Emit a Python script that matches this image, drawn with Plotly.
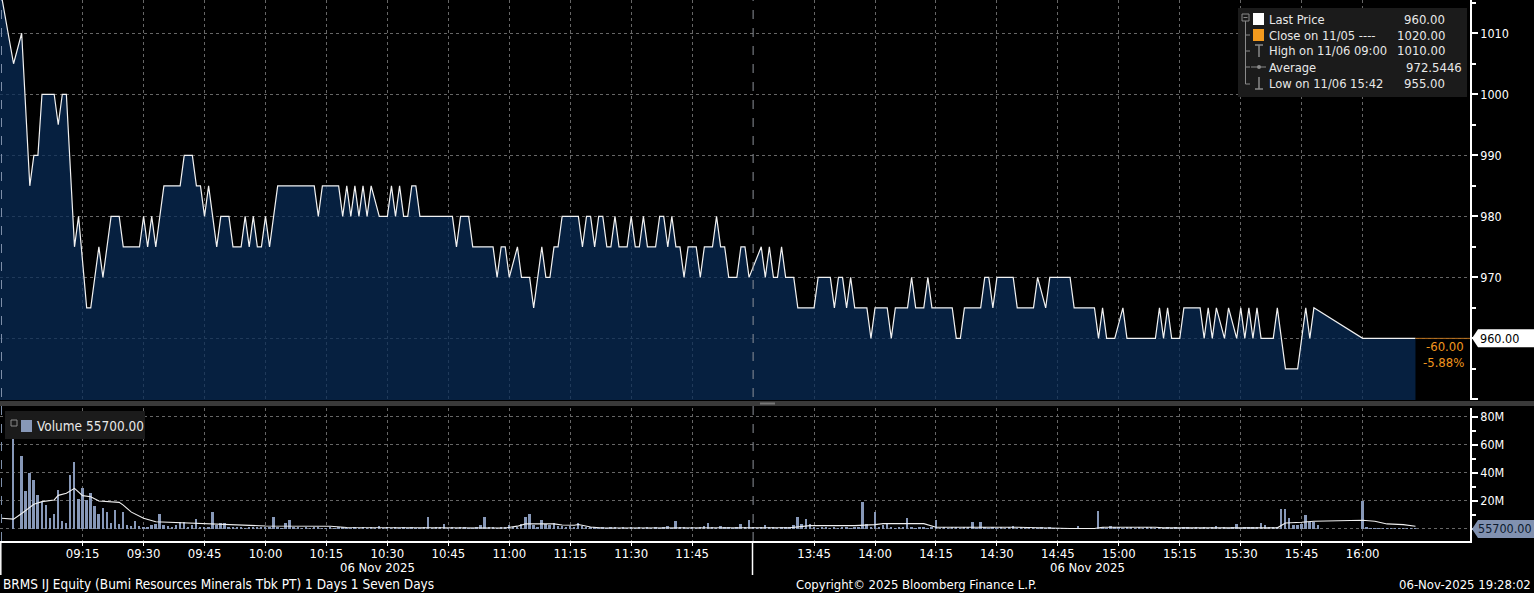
import plotly.graph_objects as go
import pandas as pd

DAY = "2025-11-06"

# ---------------- price (vertices of the traded-price line) ----------------
price_times = [
    "08:54", "08:58", "09:00", "09:02", "09:03", "09:04", "09:05", "09:08", "09:09", "09:10",
    "09:11", "09:13", "09:14", "09:16", "09:17", "09:19", "09:20", "09:22", "09:24", "09:25",
    "09:29", "09:30", "09:31", "09:32", "09:33", "09:35", "09:39", "09:40", "09:42", "09:43",
    "09:44", "09:45", "09:46", "09:48", "09:49", "09:51", "09:52", "09:54", "09:55", "09:56",
    "09:57", "09:58", "09:59", "10:00", "10:01", "10:03", "10:12", "10:13", "10:14", "10:18",
    "10:19", "10:20", "10:21", "10:22", "10:23", "10:24", "10:25", "10:26", "10:28", "10:30",
    "10:31", "10:32", "10:33", "10:34", "10:35", "10:36", "10:37", "10:38", "10:46", "10:47",
    "10:48", "10:50", "10:51", "10:56", "10:57", "10:58", "10:59", "11:00", "11:02", "11:03",
    "11:05", "11:06", "11:08", "11:09", "11:10", "11:11", "11:12", "11:13", "11:17", "11:18",
    "11:19", "11:20", "11:21", "11:22", "11:23", "11:24", "11:25", "11:26", "11:27", "11:29",
    "11:30", "11:31", "11:32", "11:33", "11:34", "11:36", "11:37", "11:38", "11:39", "11:40",
    "11:41", "11:42", "11:43", "11:44", "11:46", "11:47", "11:48", "11:50", "11:51", "11:52",
    "11:53", "11:54", "11:56", "11:57", "11:58", "11:59",
    "13:32", "13:33", "13:34", "13:35", "13:36", "13:37", "13:38", "13:40", "13:41", "13:45",
    "13:46", "13:49", "13:50", "13:51", "13:52", "13:53", "13:54", "13:55", "13:58", "13:59",
    "14:00", "14:03", "14:04", "14:05", "14:08", "14:09", "14:10", "14:12", "14:13", "14:14",
    "14:19", "14:20", "14:21", "14:22", "14:26", "14:27", "14:28", "14:29", "14:30", "14:34",
    "14:35", "14:39", "14:40", "14:42", "14:43", "14:48", "14:49", "14:54", "14:55", "14:56",
    "14:57", "14:59", "15:01", "15:02", "15:09", "15:10", "15:11", "15:12", "15:13", "15:15",
    "15:16", "15:20", "15:21", "15:22", "15:23", "15:24", "15:26", "15:27", "15:29", "15:30",
    "15:31", "15:32", "15:33", "15:34", "15:35", "15:38", "15:39", "15:40", "15:41", "15:44",
    "15:45", "15:46", "15:47", "15:48", "16:00", "16:13",
]
price_values = [
    1020, 1005, 1010, 985, 990, 990, 1000, 1000, 995, 1000,
    1000, 975, 980, 965, 965, 975, 970, 980, 980, 975,
    975, 980, 975, 980, 975, 985, 985, 990, 990, 985,
    985, 980, 985, 975, 980, 980, 975, 975, 980, 975,
    980, 975, 975, 980, 975, 985, 985, 980, 985, 985,
    980, 985, 980, 985, 980, 985, 980, 985, 980, 980,
    985, 980, 985, 980, 980, 985, 985, 980, 980, 975,
    980, 980, 975, 975, 970, 975, 975, 970, 975, 970,
    970, 965, 975, 970, 970, 975, 975, 980, 980, 975,
    980, 980, 975, 980, 980, 975, 975, 980, 975, 975,
    980, 975, 975, 980, 975, 975, 980, 980, 975, 980,
    975, 975, 970, 975, 975, 970, 975, 975, 980, 975,
    975, 970, 970, 975, 975, 970,
    975, 970, 975, 970, 970, 975, 970, 970, 965, 965,
    970, 970, 965, 970, 970, 965, 970, 965, 965, 960,
    965, 965, 960, 965, 965, 970, 965, 965, 970, 965,
    965, 960, 960, 965, 965, 970, 970, 965, 970, 970,
    965, 965, 970, 965, 970, 970, 965, 965, 960, 965,
    960, 960, 965, 960, 960, 965, 960, 965, 960, 960,
    965, 965, 960, 965, 960, 965, 960, 965, 960, 965,
    960, 965, 960, 965, 960, 960, 965, 960, 955, 955,
    960, 965, 960, 965, 960, 960,
]

# ---------------- volume (per minute, millions of shares) ----------------
preopen_vol_time = ["08:58"]
preopen_vol = [64.0]
am_vol = [
    52, 27, 40, 35, 24, 19.5, 17, 7.6, 11, 28, 5.7, 4, 38.5, 47.6, 21.4,
    29, 20.7, 26, 16.4, 10.7, 14.8, 12.4, 4, 13.6, 3.6, 11.9, 2.9, 2.1, 5.7, 2.4,
    1.0, 1.2, 2.9, 3.3, 10.7, 2.9, 2.4, 1.7, 2.9, 4.8, 4.8, 1.7, 2.9, 7.0, 1.0,
    1.7, 1.7, 12.0, 2.9, 4.0, 4.0, 1.2, 0.8, 1.5, 1.0, 0.6, 1.2, 0.9, 0.7, 1.1,
    0.8, 1.0, 8.3, 0.9, 0.6, 4.0, 6.2, 1.2, 0.7, 0.5, 0.9, 0.6, 1.1, 0.8, 0.5,
    0.6, 0.9, 0.5, 0.7, 1.0, 0.6, 0.4, 0.8, 0.5, 0.7, 0.6, 0.9, 0.5, 2.0, 0.6,
    0.8, 0.5, 0.7, 0.6, 0.9, 0.5, 0.7, 0.6, 0.4, 0.8, 8.6, 0.5, 0.7, 0.9, 3.6,
    0.6, 0.8, 0.5, 0.7, 0.9, 0.6, 0.5, 0.8, 2.6, 8.6, 0.7, 0.9, 0.6, 1.0, 0.8,
    3.0, 0.9, 1.2, 3.6, 8.3, 10.7, 3.0, 1.0, 6.2, 3.6, 2.6, 4.3, 2.4, 2.4, 1.0,
    2.2, 0.8, 4.3, 2.4, 0.9, 0.7, 1.0, 0.6, 0.8, 0.5, 0.7, 0.9, 0.6, 0.8, 0.5,
    0.7, 0.6, 0.9, 0.5, 0.8, 0.6, 0.7, 0.5, 0.8, 2.4, 0.6, 6.0, 0.7, 0.9, 0.5,
    0.8, 0.6, 0.7, 1.9, 4.3, 0.8, 0.6, 1.9, 0.7, 0.9, 0.6, 0.8, 3.6, 0.7, 6.2,
]
pm_vol = [
    0.9, 0.6, 0.8, 2.6, 0.7, 0.9, 0.6, 0.8, 0.7, 0.9, 2.6, 8.6, 3.6, 7.1, 3.6,
    0.8, 0.6, 0.7, 0.9, 0.5, 0.8, 0.6, 0.7, 0.9, 0.6, 0.8, 1.0, 19.3, 3.6, 1.2,
    12.1, 0.9, 2.6, 4.3, 0.8, 0.6, 0.9, 0.7, 7.9, 0.8, 0.6, 0.9, 0.7, 0.5, 0.8,
    6.7, 0.6, 0.8, 0.5, 0.7, 0.9, 0.6, 0.8, 0.7, 5.0, 0.6, 5.0, 0.8, 0.5, 0.7,
    0.6, 0.8, 0.5, 0.7, 1.9, 0.6, 0.8, 0.5, 0.7, 0.6, 0.4, 0.7, 0.5, 0.8, 0.6,
    0.5, 0.3, 0.4, 0.3, 0.5, 1.9, 0.3, 0.4, 0.5, 0.3, 13.1, 0.8, 0.6, 2.4, 0.7,
    0.8, 0.6, 0.7, 0.9, 0.5, 0.8, 0.6, 0.7, 0.9, 0.6, 0.8, 0.5, 0.7, 0.6, 0.8,
    0.5, 0.7, 0.9, 0.6, 0.8, 0.5, 0.7, 0.6, 0.8, 1.9, 0.6, 0.7, 0.5, 0.8, 3.6,
    0.6, 0.8, 0.7, 0.9, 1.2, 4.3, 2.6, 1.2, 1.0, 1.4, 14.3, 14.3, 7.9, 2.6, 2.6,
    3.6, 10.2, 4.8, 4.8, 3.0, 0, 0, 0, 0, 0, 0, 0, 0, 0, 0,
    20.2, 1.2, 0.5, 0.4, 0.6, 0.3, 0.5, 0.4, 0.3, 0.5, 0.4, 0.3, 0.4, 0.3,
]

# ---------------- volume average line (vertices, millions) ----------------
ma_times = [
    "08:55", "08:58", "09:00", "09:03", "09:05", "09:08", "09:09", "09:11", "09:13", "09:15",
    "09:17", "09:19", "09:24", "09:25", "09:27", "09:30", "09:33", "09:37", "09:47", "09:52",
    "09:57", "10:00", "10:16", "10:20", "10:59", "11:02", "11:04", "11:11", "11:13", "11:16",
    "11:17", "11:20", "11:23", "11:59",
    "13:39", "13:44", "13:55", "14:00", "14:02", "14:12", "14:15", "14:35", "14:40", "14:48",
    "14:54", "14:56", "15:09", "15:11", "15:39", "15:41", "15:45", "15:48", "16:00", "16:03",
    "16:06", "16:10", "16:13",
]
ma_values = [
    7.6, 7.0, 11.0, 17.6, 19.5, 20.7, 24.0, 25.5, 29.0, 23.8,
    23.0, 20.0, 19.0, 17.0, 12.0, 7.6, 5.2, 4.8, 3.6, 3.3,
    2.4, 2.1, 1.9, 1.0, 0.7, 2.0, 3.6, 3.6, 2.8, 2.6,
    3.2, 1.4, 0.7, 0.7,
    0.9, 2.4, 2.4, 3.1, 3.8, 3.8, 1.2, 1.2, 0.7, 0.3,
    0.3, 1.2, 1.2, 0.8, 0.8, 4.3, 4.8, 5.5, 6.2, 5.5,
    3.6, 3.1, 1.9,
]

x_tick_labels = ["09:15", "09:30", "09:45", "10:00", "10:15", "10:30", "10:45", "11:00",
                 "11:15", "11:30", "11:45", "13:45", "14:00", "14:15", "14:30", "14:45",
                 "15:00", "15:15", "15:30", "15:45", "16:00"]
price_ticks = [950, 960, 970, 980, 990, 1000, 1010]
price_tick_text = ["", "", "970", "980", "990", "1000", "1010"]
vol_ticks = [0, 20e6, 40e6, 60e6, 80e6]
vol_tick_text = ["", "20M", "40M", "60M", "80M"]

last_price = 960.00
prev_close = 1020.00
high_val = 1010.00
avg_val = 972.5446
low_val = 955.00
last_volume = 55700.00


def ts(t):
    return f"{DAY} {t}:00"


px_times = [ts(t) for t in price_times]
vol_x = [ts(t) for t in preopen_vol_time] + \
    [d.strftime("%Y-%m-%d %H:%M:%S") for d in pd.date_range(f"{DAY} 09:00", periods=len(am_vol), freq="min")] + \
    [d.strftime("%Y-%m-%d %H:%M:%S") for d in pd.date_range(f"{DAY} 13:30", periods=len(pm_vol), freq="min")]
vol_y = [v * 1e6 for v in preopen_vol + am_vol + pm_vol]
ma_x = [ts(t) for t in ma_times]
ma_y = [v * 1e6 for v in ma_values]
tickvals = [ts(t) for t in x_tick_labels]

FONT = "DejaVu Sans Condensed, Liberation Sans Narrow, Arial Narrow, sans-serif"
W, H = 1534, 593
PW, PH = 1470, 541   # plot area in pixels (margins r=64, b=52)


def pxx(X):
    return X / PW


def pyy(Y):
    return (PH - Y) / PH


fig = go.Figure()

fig.add_trace(go.Scatter(
    x=px_times, y=price_values, mode="lines",
    line=dict(color="#f2f2f2", width=1.2),
    fill="tozeroy", fillcolor="rgba(8,43,86,0.74)",
    xaxis="x", yaxis="y", hoverinfo="skip",
))
fig.add_trace(go.Bar(
    x=vol_x, y=vol_y, marker=dict(color="#8798b8", line=dict(width=0)),
    width=28000, xaxis="x2", yaxis="y2", hoverinfo="skip",
))
fig.add_trace(go.Scatter(
    x=ma_x, y=ma_y, mode="lines", line=dict(color="#f0f0f0", width=1.1),
    xaxis="x2", yaxis="y2", hoverinfo="skip",
))

rb = [dict(bounds=[f"{DAY} 12:00:00", f"{DAY} 13:30:00"])]
xrange = [f"{DAY} 08:54:40", f"{DAY} 16:26:25"]
grid_col = "#666666"

common_x = dict(type="date", range=xrange, rangebreaks=rb, tickmode="array", tickvals=tickvals,
                showgrid=True, gridcolor=grid_col, griddash="dot", gridwidth=1,
                zeroline=False, domain=[0, 1])

fig.update_layout(
    width=W, height=H,
    margin=dict(l=0, r=W - PW, t=0, b=H - PH),
    paper_bgcolor="#000000", plot_bgcolor="#000000",
    showlegend=False, hovermode=False,
    font=dict(family=FONT, color="#ffffff", size=12),
    bargap=0,
    xaxis=dict(**common_x, anchor="y", showticklabels=False, ticks=""),
    xaxis2=dict(**common_x, anchor="y2", matches="x", showticklabels=True,
                tickformat="%H:%M", ticks="outside", ticklen=3, tickcolor="#ffffff",
                ticklabelstandoff=-3,
                showline=True, linecolor="#ffffff", linewidth=1.5,
                tickfont=dict(family=FONT, size=13, color="#ffffff")),
    yaxis=dict(domain=[pyy(400), 1], range=[949.9, 1015.45], side="right", anchor="x",
               tickmode="array", tickvals=price_ticks, ticktext=price_tick_text,
               showgrid=True, gridcolor=grid_col, griddash="dot", zeroline=False,
               showline=True, linecolor="#ffffff", linewidth=1.5,
               ticks="outside", ticklen=6, tickwidth=2, tickcolor="#ffffff",
               minor=dict(tickmode="linear", tick0=955, dtick=10, ticks="outside",
                          ticklen=4, tickcolor="#ffffff", showgrid=False),
               tickfont=dict(family=FONT, size=12.5, color="#ffffff"), automargin=False),
    yaxis2=dict(domain=[0, pyy(408)], range=[-8.6e6, 86.4e6], side="right", anchor="x2",
                tickmode="array", tickvals=vol_ticks, ticktext=vol_tick_text,
                showgrid=True, gridcolor=grid_col, griddash="dot", zeroline=False,
                showline=True, linecolor="#ffffff", linewidth=1.5,
                ticks="outside", ticklen=6, tickwidth=2, tickcolor="#ffffff",
                minor=dict(tickmode="linear", tick0=10e6, dtick=20e6, ticks="outside",
                           ticklen=4, tickcolor="#ffffff", showgrid=False),
                tickfont=dict(family=FONT, size=12.5, color="#ffffff"), automargin=False),
)

shapes = []
# separator band between panels
shapes.append(dict(type="rect", xref="paper", yref="paper", x0=0, x1=pxx(W), y0=pyy(406), y1=pyy(401),
                   fillcolor="#3a3a3a", line=dict(width=0), layer="above"))
shapes.append(dict(type="rect", xref="paper", yref="paper", x0=pxx(760), x1=pxx(775), y0=pyy(404.5), y1=pyy(402.5),
                   fillcolor="#777777", line=dict(width=0), layer="above"))
# left day separator and session break
shapes.append(dict(type="line", xref="paper", yref="paper", x0=pxx(1.5), x1=pxx(1.5), y0=0, y1=1,
                   line=dict(color="#7d8ea8", width=1, dash="dash")))
shapes.append(dict(type="line", xref="x", yref="paper", x0=f"{DAY} 13:30:00", x1=f"{DAY} 13:30:00",
                   y0=0, y1=1, line=dict(color="#8c9098", width=1, dash="dash")))
for X in (0.8, 752.5):
    shapes.append(dict(type="line", xref="paper", yref="paper", x0=pxx(X), x1=pxx(X), y0=pyy(575), y1=0,
                       line=dict(color="#ffffff", width=1.5)))
# last-price level line
shapes.append(dict(type="line", xref="x", yref="y", x0=px_times[-1], x1=xrange[1], y0=last_price, y1=last_price,
                   line=dict(color="#b8701c", width=1)))
# last price marker box
shapes.append(dict(type="path", xref="paper", yref="y", xsizemode="pixel", ysizemode="pixel",
                   xanchor=pxx(W), yanchor=last_price,
                   path="M -62,0 L -56,9 L 0,9 L 0,-9 L -56,-9 Z",
                   fillcolor="#ffffff", line=dict(width=0), layer="above"))
# last volume marker box
shapes.append(dict(type="path", xref="paper", yref="y2", xsizemode="pixel", ysizemode="pixel",
                   xanchor=pxx(W), yanchor=last_volume,
                   path="M -62,0 L -56,9 L 0,9 L 0,-9 L -56,-9 Z",
                   fillcolor="#8191b0", line=dict(width=0), layer="above"))
# legend box (price)
shapes.append(dict(type="rect", xref="paper", yref="paper", x0=pxx(1238), x1=pxx(1467), y0=pyy(97), y1=pyy(8),
                   fillcolor="#1b1b1b", line=dict(width=0), layer="above"))
# legend tree
gray = "#8a8a8a"
shapes.append(dict(type="rect", xref="paper", yref="paper", x0=pxx(1242), x1=pxx(1249), y0=pyy(21), y1=pyy(14),
                   line=dict(color=gray, width=1), layer="above"))
shapes.append(dict(type="line", xref="paper", yref="paper", x0=pxx(1243.5), x1=pxx(1247.5), y0=pyy(17.5), y1=pyy(17.5),
                   line=dict(color=gray, width=1), layer="above"))
shapes.append(dict(type="line", xref="paper", yref="paper", x0=pxx(1245.5), x1=pxx(1245.5), y0=pyy(84), y1=pyy(21),
                   line=dict(color=gray, width=1), layer="above"))
for Y in (35, 51, 67, 84):
    shapes.append(dict(type="line", xref="paper", yref="paper", x0=pxx(1245.5), x1=pxx(1250), y0=pyy(Y), y1=pyy(Y),
                       line=dict(color=gray, width=1), layer="above"))
shapes.append(dict(type="rect", xref="paper", yref="paper", x0=pxx(1253), x1=pxx(1264), y0=pyy(25), y1=pyy(13),
                   fillcolor="#ffffff", line=dict(width=0), layer="above"))
shapes.append(dict(type="rect", xref="paper", yref="paper", x0=pxx(1253), x1=pxx(1264), y0=pyy(41), y1=pyy(29),
                   fillcolor="#f39a1e", line=dict(width=0), layer="above"))
# High icon
shapes.append(dict(type="line", xref="paper", yref="paper", x0=pxx(1255), x1=pxx(1263), y0=pyy(45), y1=pyy(45),
                   line=dict(color=gray, width=1.5), layer="above"))
shapes.append(dict(type="line", xref="paper", yref="paper", x0=pxx(1259), x1=pxx(1259), y0=pyy(57), y1=pyy(45),
                   line=dict(color=gray, width=1.5), layer="above"))
# Average icon
shapes.append(dict(type="line", xref="paper", yref="paper", x0=pxx(1251), x1=pxx(1266), y0=pyy(67), y1=pyy(67),
                   line=dict(color=gray, width=1), layer="above"))
shapes.append(dict(type="circle", xref="paper", yref="paper", x0=pxx(1257), x1=pxx(1261), y0=pyy(69), y1=pyy(65),
                   fillcolor=gray, line=dict(width=0), layer="above"))
# Low icon
shapes.append(dict(type="line", xref="paper", yref="paper", x0=pxx(1259), x1=pxx(1259), y0=pyy(89), y1=pyy(77),
                   line=dict(color=gray, width=1.5), layer="above"))
shapes.append(dict(type="line", xref="paper", yref="paper", x0=pxx(1255), x1=pxx(1263), y0=pyy(89), y1=pyy(89),
                   line=dict(color=gray, width=1.5), layer="above"))
# volume legend box
shapes.append(dict(type="rect", xref="paper", yref="paper", x0=pxx(5), x1=pxx(145), y0=pyy(439), y1=pyy(411),
                   fillcolor="#1b1b1b", line=dict(width=0), layer="above"))
shapes.append(dict(type="rect", xref="paper", yref="paper", x0=pxx(11), x1=pxx(17), y0=pyy(426), y1=pyy(420),
                   line=dict(color=gray, width=1), layer="above"))
shapes.append(dict(type="rect", xref="paper", yref="paper", x0=pxx(21), x1=pxx(32), y0=pyy(432), y1=pyy(420),
                   fillcolor="#8798b8", line=dict(width=0), layer="above"))
fig.update_layout(shapes=shapes)

ann = []


def txt(X, Y, s, anchor="left", color="#e8e8e8", size=13):
    ann.append(dict(x=pxx(X), y=pyy(Y), xref="paper", yref="paper", text=s, showarrow=False,
                    xanchor=anchor, yanchor="middle", borderpad=0,
                    font=dict(family=FONT, size=size, color=color)))


legend_rows = [
    (19, "Last Price", f"{last_price:.2f}"),
    (35, "Close on 11/05 ----", f"{prev_close:.2f}"),
    (51, "High on 11/06 09:00", f"{high_val:.2f}"),
    (67, "Average", f"{avg_val:.4f}"),
    (84, "Low on 11/06 15:42", f"{low_val:.2f}"),
]
for Y, lab, val in legend_rows:
    txt(1268, Y, lab, size=12.8)
    if len(val.split(".")[1]) == 4:
        txt(1405, Y, val, anchor="left", size=13)
    else:
        txt(1446, Y, val, anchor="right", size=13)

txt(36, 426, "Volume", size=13.5)
txt(85, 426, f"{last_volume:.2f}", size=13.5)

# change labels
chg = last_price - prev_close
ann.append(dict(x=pxx(1466), y=958.6, xref="paper", yref="y", text=f"{chg:.2f}", showarrow=False,
                xanchor="right", yanchor="middle", font=dict(family=FONT, size=13, color="#f0961e")))
ann.append(dict(x=pxx(1466), y=956.0, xref="paper", yref="y", text=f"{chg / prev_close * 100:.2f}%",
                showarrow=False, xanchor="right", yanchor="middle",
                font=dict(family=FONT, size=13, color="#f0961e")))
ann.append(dict(x=pxx(1478), y=last_price, xref="paper", yref="y", text=f"{last_price:.2f}", showarrow=False,
                xanchor="left", yanchor="middle", font=dict(family=FONT, size=12.5, color="#000000")))
ann.append(dict(x=pxx(1476), y=last_volume, xref="paper", yref="y2", text=f"{last_volume:.2f}", showarrow=False,
                xanchor="left", yanchor="middle", font=dict(family=FONT, size=12.5, color="#0d1a2e")))

# dates under the axis and footer
txt(377, 567, "06 Nov 2025", anchor="center", color="#ffffff", size=13)
txt(1087, 567, "06 Nov 2025", anchor="center", color="#ffffff", size=13)
txt(2, 584, "BRMS IJ Equity (Bumi Resources Minerals Tbk PT) 1 Days 1 Seven Days", color="#ffffff", size=13.5)
txt(795, 584, "Copyright\u00a9 2025 Bloomberg Finance L.P.", color="#ffffff", size=13)
txt(1532, 584, "06-Nov-2025 19:28:02", anchor="right", color="#ffffff", size=13)

fig.update_layout(annotations=ann)
fig.write_html("out.html", config={"displayModeBar": False},
               post_script="document.body.style.margin='0';document.body.style.overflow='hidden';")
